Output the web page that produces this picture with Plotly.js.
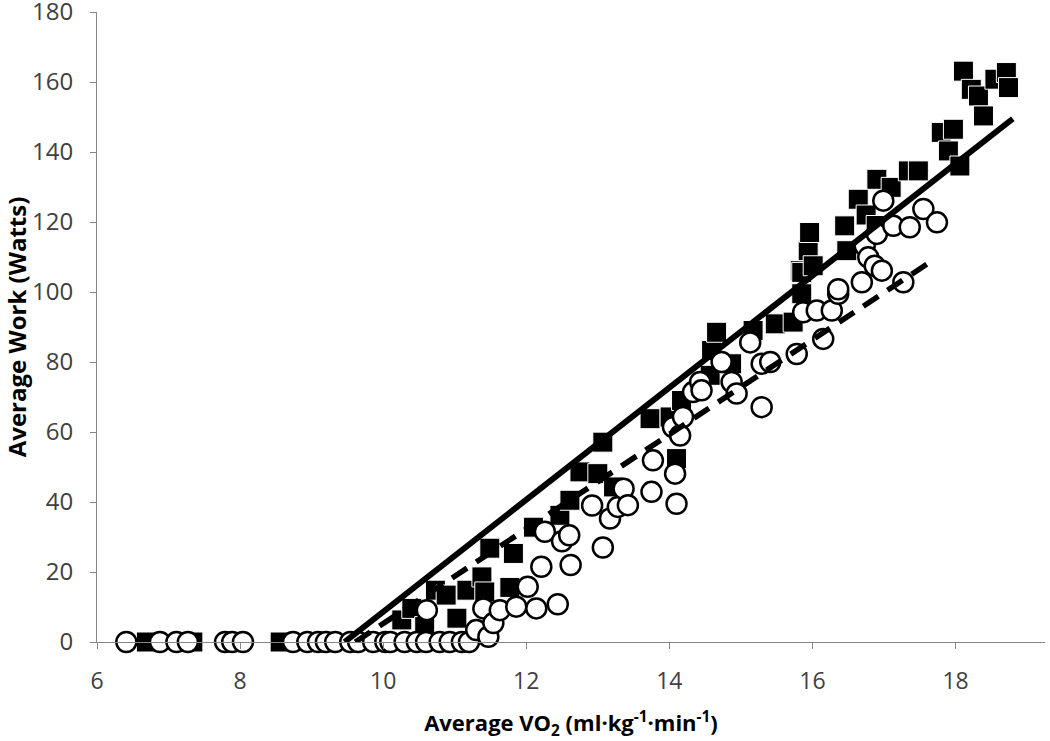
<!DOCTYPE html>
<html>
<head>
<meta charset="utf-8">
<script src="https://cdn.plot.ly/plotly-3.0.1.min.js"></script>
<style>html,body{margin:0;padding:0;background:#fff;}#chart{width:1050px;height:741px;}</style>
</head>
<body>
<div id="chart"></div>
<script>
// Group A (filled squares)
const squareX = [6.69, 7.34, 8.56,
  10.26, 10.4, 10.58, 10.73, 10.88, 11.03, 11.17, 11.38, 11.42, 11.49, 11.77, 11.82,
  12.1, 12.47, 12.61, 12.75, 13.0, 13.07, 13.22, 13.73, 14.1, 14.01, 14.17,
  14.57, 14.59, 14.66, 14.87, 15.17, 15.48, 15.73, 15.83, 15.85, 15.85, 15.94, 15.96, 16.01,
  16.45, 16.48, 16.64, 16.75, 16.89, 16.9, 17.1, 17.34, 17.48, 17.8, 17.9, 17.97, 18.06,
  18.11, 18.22, 18.32, 18.39, 18.55, 18.71, 18.74];
const squareY = [0, 0, 0,
  6.3, 9.6, 4.4, 14.8, 13.4, 6.8, 14.8, 18.6, 14.3, 26.8, 15.6, 25.3,
  32.8, 36.2, 40.5, 48.6, 48.1, 57.1, 44.3, 63.8, 52.4, 64.3, 69,
  76.2, 83.3, 88.5, 79.5, 89, 90.9, 91.4, 106.1, 99.5, 105.6, 111.8, 117, 107.5,
  118.9, 111.8, 126.5, 122, 119, 132.2, 129.9, 134.6, 134.6, 145.6, 140.3, 146.5, 136,
  163.1, 157.9, 156, 150.3, 160.8, 162.7, 158.4];

// Group B (open circles)
const circleX = [6.41, 6.88, 7.11, 7.27, 7.79, 7.89, 8.04, 8.74, 8.94, 9.09, 9.2, 9.33, 9.54, 9.65,
  9.86, 10.03, 10.1, 10.3, 10.47, 10.6, 10.79, 10.93, 11.1, 11.2,
  10.61, 11.3, 11.47, 11.4, 11.54, 11.63, 11.86, 12.02, 12.14, 12.21, 12.26, 12.44, 12.5, 12.6,
  12.62, 12.92, 13.07, 13.17, 13.28, 13.36, 13.42, 13.75, 13.77, 14.05, 14.08, 14.1, 14.15,
  14.19, 14.33, 14.43, 14.45, 14.73, 14.87, 14.94, 15.13, 15.29, 15.29, 15.41, 15.78, 15.87,
  16.06, 16.15, 16.27, 16.36, 16.36, 16.69, 16.73, 16.78, 16.87, 16.9, 16.97, 16.99, 17.13,
  17.27, 17.36, 17.55, 17.74];
const circleY = [0, 0, 0, 0, 0, 0, 0, 0, 0, 0, 0, 0, 0, 0,
  0, 0, 0, 0, 0, 0, 0, 0, 0, 0,
  9.1, 3.4, 1.5, 9.6, 5.4, 9.1, 10.1, 15.8, 9.6, 21.5, 31.5, 10.8, 28.8, 30.5,
  22, 39, 27, 35.3, 38.6, 43.8, 39.1, 42.9, 51.9, 61.4, 48.1, 39.5, 59,
  64.3, 71.4, 74.3, 71.9, 80, 74.3, 71, 85.6, 79.5, 67.1, 80, 82.3, 94.2,
  94.7, 86.6, 94.7, 99.5, 100.8, 102.8, 113.2, 109.9, 107.5, 116.6, 106.1, 126.1, 118.9,
  102.8, 118.5, 123.7, 119.9];

// Regression lines (end points)
const fitAX = [9.46, 18.8];
const fitAY = [0, 149.5];
const fitBX = [9.61, 17.61];
const fitBY = [0, 108.1];

const xTicks = [6, 8, 10, 12, 14, 16, 18];
const yTicks = [0, 20, 40, 60, 80, 100, 120, 140, 160, 180];

const FONT = "'Open Sans', 'Noto Sans', sans-serif";

const traces = [
  {x: squareX, y: squareY, type: 'scatter', mode: 'markers', cliponaxis: false,
   marker: {symbol: 'square', size: 20, color: '#000', line: {color: '#fff', width: 1}}},
  {x: circleX, y: circleY, type: 'scatter', mode: 'markers', cliponaxis: false,
   marker: {symbol: 'circle', size: 20, color: '#fff', line: {color: '#000', width: 2.5}}},
  {x: fitAX, y: fitAY, type: 'scatter', mode: 'lines', cliponaxis: false,
   line: {color: '#000', width: 6}},
  {x: fitBX, y: fitBY, type: 'scatter', mode: 'lines', cliponaxis: false,
   line: {color: '#000', width: 5.5, dash: '18px,11px'}}
];

const layout = {
  width: 1050, height: 741,
  margin: {l: 97, r: 5, t: 12, b: 99},
  paper_bgcolor: '#fff', plot_bgcolor: '#fff',
  showlegend: false,
  font: {family: FONT, color: '#404040', size: 23},
  xaxis: {
    range: [6, 19.25], tickvals: xTicks, ticktext: xTicks.map(String),
    showgrid: false, zeroline: false, showline: true, linecolor: '#868686', linewidth: 1,
    ticks: 'outside', ticklen: 6, tickcolor: '#868686', tickwidth: 1,
    ticklabelstandoff: 12, ticklabeloverflow: 'allow',
    tickfont: {family: FONT, size: 23, color: '#404040'},
    title: {text: 'Average VO<sub>2</sub> (ml·kg<sup>-1</sup>·min<sup>-1</sup>)',
            font: {family: FONT, size: 22, color: '#000', weight: 'bold'}, standoff: 47}
  },
  yaxis: {
    range: [0, 180], tickvals: yTicks, ticktext: yTicks.map(String),
    showgrid: false, zeroline: false, showline: true, linecolor: '#868686', linewidth: 1,
    ticks: 'outside', ticklen: 6, tickcolor: '#868686', tickwidth: 1,
    ticklabelstandoff: 12, ticklabeloverflow: 'allow',
    tickfont: {family: FONT, size: 24, color: '#404040'},
    title: {text: 'Average Work (Watts)',
            font: {family: FONT, size: 24, color: '#000', weight: 'bold'}, standoff: 6}
  }
};

Plotly.newPlot('chart', traces, layout, {staticPlot: true, displayModeBar: false});
</script>
</body>
</html>
